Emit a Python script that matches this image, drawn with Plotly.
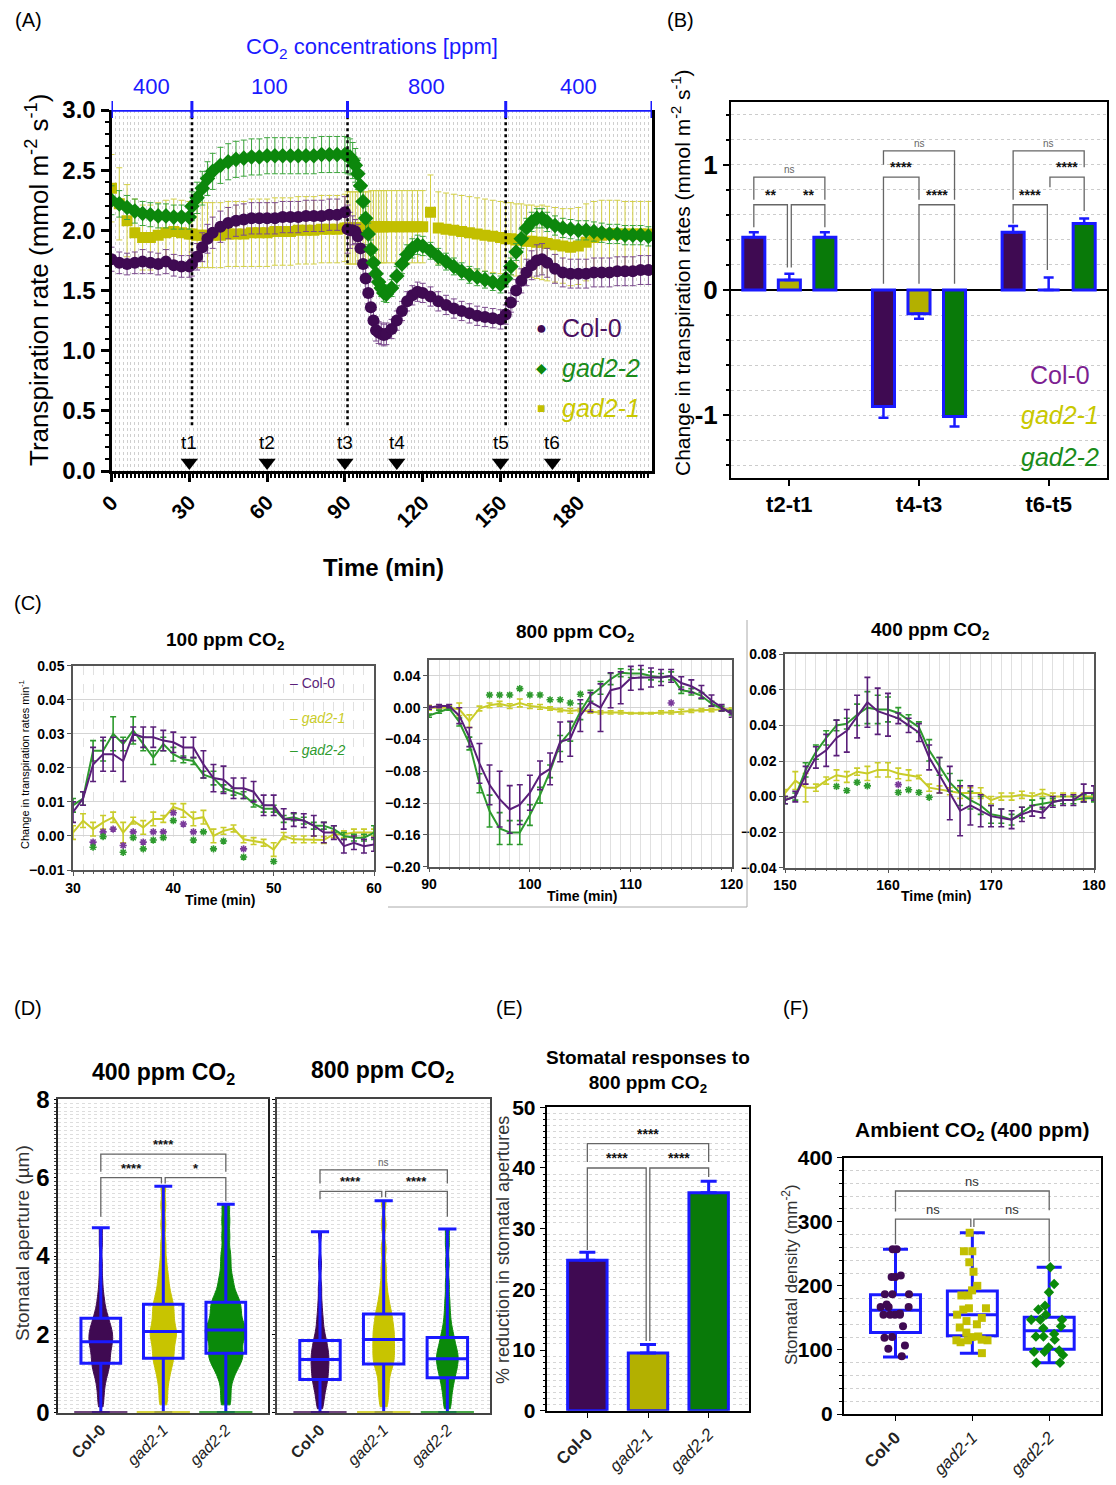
import plotly.graph_objects as go

W, H = 1116, 1485
FONT = "Arial, Liberation Sans, Helvetica, sans-serif"

PURPLE = "#3f0a52"
GREEN = "#0c870c"
YELLOW = "#c2bf00"
BLUE = "#1a1aff"

# ---------------- Panel A data ----------------
time_a = [0, 3, 6, 9, 12, 15, 18, 21, 24, 27, 30,
          31, 33, 35, 37, 39, 42, 45, 48, 51, 54, 57, 60, 63, 66, 69, 72, 75, 78, 81, 84, 87, 90,
          91, 92, 93, 94, 95, 96, 97, 98, 99, 100, 101, 102, 103, 104, 105, 106,
          108, 110, 112, 114, 116, 118, 120,
          123, 126, 129, 132, 135, 138, 141, 144, 147, 150,
          152, 154, 156, 158, 160, 162, 164, 166, 168,
          171, 174, 177, 180, 183, 186, 189, 192, 195, 198, 201, 204, 207]
col0_a = [1.76, 1.73, 1.72, 1.73, 1.74, 1.73, 1.72, 1.74, 1.71, 1.70, 1.70,
          1.72, 1.78, 1.86, 1.93, 1.98, 2.03, 2.06, 2.08, 2.09, 2.10, 2.10, 2.10, 2.10, 2.11, 2.11, 2.11, 2.12, 2.12, 2.12, 2.13, 2.13, 2.15,
          2.01, 2.00, 2.00, 1.99, 1.95, 1.85, 1.72, 1.60, 1.48, 1.36, 1.25, 1.17, 1.15, 1.14, 1.13, 1.14,
          1.18, 1.25, 1.33, 1.41, 1.46, 1.49, 1.48,
          1.45, 1.41, 1.38, 1.35, 1.33, 1.31, 1.29, 1.28, 1.27, 1.26,
          1.30, 1.40, 1.50, 1.58, 1.65, 1.71, 1.75, 1.76, 1.73,
          1.68, 1.65, 1.64, 1.64, 1.64, 1.65, 1.65, 1.65, 1.66, 1.66, 1.66, 1.67, 1.67]
col0_a_err = [0.10, 0.09, 0.09, 0.09, 0.10, 0.09, 0.09, 0.10, 0.09, 0.09, 0.09,
              0.10, 0.11, 0.12, 0.12, 0.13, 0.13, 0.13, 0.13, 0.13, 0.13, 0.13, 0.13, 0.13, 0.13, 0.13, 0.13, 0.13, 0.13, 0.13, 0.13, 0.13, 0.13,
              0.20, 0.15, 0.12, 0.10, 0.10, 0.10, 0.10, 0.09, 0.09, 0.09, 0.09, 0.09, 0.09, 0.09, 0.09, 0.09,
              0.08, 0.08, 0.08, 0.08, 0.08, 0.08, 0.08,
              0.08, 0.08, 0.08, 0.08, 0.08, 0.08, 0.08, 0.08, 0.08, 0.08,
              0.08, 0.08, 0.09, 0.10, 0.11, 0.12, 0.13, 0.13, 0.12,
              0.12, 0.12, 0.12, 0.12, 0.12, 0.12, 0.12, 0.12, 0.12, 0.12, 0.12, 0.12, 0.12]
gad22_a = [2.25, 2.22, 2.19, 2.16, 2.14, 2.13, 2.12, 2.12, 2.11, 2.11, 2.11,
           2.20, 2.27, 2.35, 2.43, 2.49, 2.54, 2.57, 2.59, 2.60, 2.61, 2.61, 2.62, 2.62, 2.62, 2.62, 2.62, 2.62, 2.62, 2.63, 2.63, 2.63, 2.63,
           2.62, 2.61, 2.58, 2.54, 2.47, 2.37, 2.24, 2.10, 1.97, 1.84, 1.73, 1.64, 1.57, 1.52, 1.48, 1.47,
           1.52, 1.62, 1.72, 1.80, 1.85, 1.88, 1.87,
           1.83, 1.78, 1.74, 1.70, 1.66, 1.63, 1.61, 1.59, 1.57, 1.55,
           1.60, 1.70, 1.82, 1.93, 2.02, 2.07, 2.10, 2.10, 2.07,
           2.04, 2.02, 2.01, 2.00, 2.00, 1.99, 1.98, 1.97, 1.97, 1.96, 1.96, 1.96, 1.95]
gad22_a_err = [0.12, 0.11, 0.10, 0.10, 0.10, 0.10, 0.10, 0.10, 0.10, 0.10, 0.10,
               0.12, 0.13, 0.14, 0.14, 0.15, 0.15, 0.15, 0.15, 0.15, 0.15, 0.15, 0.15, 0.15, 0.15, 0.15, 0.15, 0.15, 0.15, 0.15, 0.15, 0.15, 0.15,
               0.15, 0.15, 0.15, 0.14, 0.13, 0.12, 0.11, 0.10, 0.09, 0.08, 0.08, 0.07, 0.07, 0.07, 0.07, 0.07,
               0.07, 0.08, 0.08, 0.08, 0.08, 0.08, 0.08,
               0.07, 0.07, 0.07, 0.07, 0.07, 0.07, 0.07, 0.07, 0.07, 0.07,
               0.07, 0.07, 0.07, 0.08, 0.08, 0.08, 0.08, 0.08, 0.08,
               0.08, 0.08, 0.08, 0.08, 0.08, 0.08, 0.08, 0.08, 0.08, 0.08, 0.08, 0.08, 0.08]
gad21_a = [2.35, 2.22, 2.08, 1.98, 1.94, 1.94, 1.96, 1.98, 1.99, 1.98, 1.97,
           1.97, 1.96, 1.96, 1.96, 1.96, 1.96, 1.97, 1.97, 1.97, 1.98, 1.98, 1.98, 1.99, 1.99, 1.99, 2.00, 2.00, 2.00, 2.01, 2.01, 2.01, 2.02,
           2.02, 2.02, 2.02, 2.02, 2.02, 2.02, 2.02, 2.02, 2.02, 2.03, 2.03, 2.03, 2.03, 2.03, 2.03, 2.03,
           2.03, 2.03, 2.03, 2.03, 2.03, 2.03, 2.03,
           2.15, 2.02, 2.01, 2.00, 1.99, 1.98, 1.97, 1.96, 1.95, 1.94,
           1.93, 1.93, 1.92, 1.92, 1.91, 1.91, 1.90, 1.90, 1.89,
           1.88, 1.87, 1.86, 1.87, 1.90, 1.94, 1.96, 1.97, 1.97, 1.97, 1.97, 1.97, 1.97]
gad21_a_err = [0.28, 0.30, 0.30, 0.28, 0.27, 0.27, 0.27, 0.27, 0.27, 0.27, 0.27,
               0.27, 0.27, 0.27, 0.27, 0.27, 0.27, 0.27, 0.27, 0.27, 0.28, 0.28, 0.28, 0.28, 0.28, 0.28, 0.28, 0.28, 0.28, 0.28, 0.28, 0.28, 0.28,
               0.30, 0.30, 0.30, 0.30, 0.30, 0.30, 0.30, 0.30, 0.30, 0.30, 0.30, 0.30, 0.30, 0.30, 0.30, 0.30,
               0.30, 0.30, 0.30, 0.30, 0.30, 0.30, 0.30,
               0.31, 0.30, 0.30, 0.30, 0.30, 0.30, 0.30, 0.30, 0.30, 0.30,
               0.30, 0.30, 0.30, 0.30, 0.30, 0.30, 0.30, 0.31, 0.31,
               0.31, 0.31, 0.32, 0.32, 0.32, 0.30, 0.29, 0.28, 0.28, 0.27, 0.27, 0.27, 0.27]
co2_bounds = [0, 31, 91, 152, 208.4]
co2_labels = ["400", "100", "800", "400"]
t_marks = [30, 60, 90, 110, 150, 170]
t_labels = ["t1", "t2", "t3", "t4", "t5", "t6"]

# ---------------- Panel B data ----------------
b_groups = ["t2-t1", "t4-t3", "t6-t5"]
b_col0 = [0.42, -0.93, 0.46]
b_col0_err = [0.04, 0.09, 0.05]
b_gad21 = [0.08, -0.19, 0.0]
b_gad21_err = [0.05, 0.04, 0.10]
b_gad22 = [0.42, -1.01, 0.53]
b_gad22_err = [0.04, 0.08, 0.04]

# ---------------- Panel C data ----------------
time_c1 = list(range(30, 61))
c1_col0 = [0.007, 0.011, 0.021, 0.024, 0.024, 0.022, 0.030, 0.029, 0.029, 0.028, 0.0275, 0.026, 0.026, 0.021, 0.017, 0.0165,
           0.014, 0.014, 0.013, 0.009, 0.009, 0.005, 0.0048, 0.0045, 0.003, 0.001, 0.001, -0.003, -0.002, -0.003, -0.0025]
c1_col0_err = [0.003, 0.002, 0.005, 0.005, 0.005, 0.006, 0.002, 0.003, 0.003, 0.003, 0.003, 0.003, 0.003, 0.004, 0.004, 0.004,
               0.003, 0.003, 0.003, 0.003, 0.003, 0.003, 0.002, 0.002, 0.003, 0.003, 0.002, 0.002, 0.002, 0.002, 0.002]
c1_gad22 = [0.009, 0.011, 0.025, 0.025, 0.030, 0.027, 0.031, 0.027, 0.023, 0.027, 0.024, 0.0225, 0.022, 0.018, 0.017, 0.014,
            0.013, 0.012, 0.0095, 0.008, 0.008, 0.005, 0.0055, 0.0045, 0.003, 0.003, 0.002, 0.000, -0.0005, -0.0005, 0.001]
c1_gad22_err = [0.002, 0.002, 0.003, 0.003, 0.005, 0.002, 0.004, 0.002, 0.002, 0.002, 0.002, 0.001, 0.001, 0.001, 0.002, 0.001,
                0.001, 0.001, 0.001, 0.001, 0.001, 0.001, 0.001, 0.001, 0.001, 0.001, 0.001, 0.001, 0.001, 0.001, 0.002]
c1_gad21 = [0.001, 0.0045, 0.002, 0.004, 0.0055, 0.001, 0.0045, 0.0025, 0.005, 0.005, 0.0085, 0.0075, 0.005, 0.0055, 0.0, 0.0015,
            0.0022, -0.001, -0.0015, -0.002, -0.004, 0.0, -0.001, -0.001, -0.001, -0.0012, 0.0005, 0.0005, 0.001, 0.001, 0.001]
c1_gad21_err = [0.002, 0.002, 0.002, 0.002, 0.0015, 0.003, 0.001, 0.002, 0.002, 0.001, 0.001, 0.002, 0.002, 0.002, 0.002, 0.001,
                0.001, 0.001, 0.001, 0.001, 0.002, 0.001, 0.001, 0.001, 0.001, 0.001, 0.001, 0.001, 0.001, 0.001, 0.001]
c1_star_col0_x = [32, 33, 34, 35, 36, 37, 38, 39, 40, 41, 42, 47]
c1_star_col0_y = [-0.0018, 0.0012, 0.002, -0.0028, 0.0012, -0.0018, 0.0012, 0.0012, 0.0068, 0.0035, 0.0012, -0.0038]
c1_star_gad22_x = [32, 33, 35, 36, 37, 38, 39, 40, 42, 43, 44, 45, 47, 50]
c1_star_gad22_y = [-0.0033, -0.0002, -0.0048, -0.0005, -0.0038, -0.0012, -0.0005, 0.0045, -0.0012, 0.0012, -0.0038, -0.0015, -0.0062, -0.0075]

time_c2 = list(range(90, 121))
c2_col0 = [0.0, 0.002, 0.002, -0.01, -0.037, -0.07, -0.097, -0.115, -0.128, -0.122, -0.107, -0.085, -0.077, -0.043, -0.039, -0.01,
           0.007, 0.0, 0.022, 0.025, 0.037, 0.038, 0.038, 0.038, 0.04, 0.031, 0.027, 0.02, 0.009, 0.0, -0.008]
c2_col0_err = [0.002, 0.002, 0.002, 0.01, 0.012, 0.025, 0.025, 0.035, 0.03, 0.025, 0.022, 0.018, 0.02, 0.025, 0.022, 0.02,
               0.012, 0.03, 0.022, 0.02, 0.015, 0.015, 0.012, 0.01, 0.008, 0.008, 0.008, 0.008, 0.007, 0.004, 0.004]
c2_gad22 = [-0.01, -0.005, -0.001, -0.018, -0.045, -0.095, -0.13, -0.152, -0.157, -0.157, -0.135, -0.11, -0.08, -0.045, -0.03, -0.005,
            0.015, 0.025, 0.036, 0.044, 0.043, 0.043, 0.04, 0.038, 0.04, 0.022, 0.02, 0.015, 0.005, -0.001, -0.006]
c2_gad22_err = [0.002, 0.002, 0.002, 0.005, 0.008, 0.012, 0.02, 0.02, 0.015, 0.015, 0.013, 0.01, 0.008, 0.01, 0.012, 0.01,
                0.007, 0.008, 0.007, 0.005, 0.005, 0.005, 0.005, 0.005, 0.005, 0.004, 0.004, 0.004, 0.003, 0.003, 0.003]
c2_gad21 = [0.0, 0.0, 0.0, -0.002, -0.017, -0.001, 0.003, 0.005, 0.002, 0.006, 0.002, 0.001, -0.001, -0.003, -0.004, -0.003,
            -0.005, -0.006, -0.006, -0.006, -0.007, -0.007, -0.007, -0.006, -0.006, -0.005, -0.004, -0.003, -0.003, -0.002, -0.002]
c2_gad21_err = [0.003, 0.003, 0.003, 0.008, 0.008, 0.003, 0.003, 0.003, 0.003, 0.005, 0.003, 0.003, 0.002, 0.002, 0.003, 0.002,
                0.002, 0.002, 0.002, 0.002, 0.001, 0.001, 0.001, 0.002, 0.002, 0.003, 0.002, 0.002, 0.002, 0.002, 0.002]
c2_star_col0_x = [114]
c2_star_col0_y = [0.006]
c2_star_gad22_x = [96, 97, 98, 99, 100, 101, 102, 103, 104, 105]
c2_star_gad22_y = [0.016, 0.016, 0.016, 0.024, 0.016, 0.016, 0.010, 0.010, 0.006, 0.017]

time_c3 = list(range(150, 181))
c3_col0 = [-0.002, 0.0, 0.012, 0.022, 0.026, 0.033, 0.037, 0.045, 0.053, 0.048, 0.046, 0.044, 0.04, 0.036, 0.022, 0.012,
           0.002, -0.008, -0.005, -0.008, -0.011, -0.012, -0.013, -0.01, -0.008, -0.009, -0.003, -0.002, -0.002, 0.002, 0.002]
c3_col0_err = [0.002, 0.003, 0.005, 0.006, 0.009, 0.01, 0.012, 0.012, 0.014, 0.013, 0.012, 0.003, 0.004, 0.005, 0.007, 0.01,
               0.015, 0.014, 0.011, 0.009, 0.006, 0.005, 0.005, 0.004, 0.003, 0.003, 0.003, 0.003, 0.003, 0.005, 0.004]
c3_gad22 = [-0.002, 0.0, 0.015, 0.025, 0.033, 0.04, 0.041, 0.046, 0.05, 0.049, 0.049, 0.047, 0.043, 0.039, 0.026, 0.017,
            0.008, 0.002, -0.002, -0.005, -0.01, -0.011, -0.013, -0.009, -0.005, -0.004, -0.003, -0.002, -0.002, -0.001, -0.001]
c3_gad22_err = [0.002, 0.002, 0.004, 0.004, 0.004, 0.003, 0.003, 0.006, 0.009, 0.008, 0.007, 0.003, 0.003, 0.003, 0.006, 0.005,
                0.005, 0.007, 0.005, 0.005, 0.005, 0.004, 0.003, 0.003, 0.003, 0.003, 0.002, 0.002, 0.002, 0.002, 0.002]
c3_gad21 = [0.002, 0.009, 0.005, 0.005, 0.009, 0.012, 0.011, 0.014, 0.013, 0.015, 0.015, 0.013, 0.012, 0.011, 0.005, 0.004,
            0.003, 0.002, 0.002, 0.002, -0.002, 0.0, 0.0, 0.001, 0.0, 0.002, 0.0, 0.0, 0.0, 0.0, 0.0]
c3_gad21_err = [0.002, 0.005, 0.008, 0.002, 0.002, 0.003, 0.003, 0.002, 0.004, 0.004, 0.004, 0.003, 0.003, 0.001, 0.002, 0.002,
                0.002, 0.003, 0.003, 0.003, 0.002, 0.002, 0.002, 0.002, 0.002, 0.002, 0.002, 0.002, 0.002, 0.002, 0.002]
c3_star_col0_x = [161]
c3_star_col0_y = [0.0067]
c3_star_gad22_x = [155, 156, 157, 158, 161, 162, 163, 164]
c3_star_gad22_y = [0.0057, 0.0034, 0.008, 0.006, 0.0023, 0.0038, 0.0023, -0.0004]

# ---------------- Panel D data ----------------
genotypes = ["Col-0", "gad2-1", "gad2-2"]
d400_col0 = [0.15, 0.35, 0.55, 0.7, 0.85, 0.95, 1.05, 1.1, 1.2, 1.25, 1.3, 1.38, 1.45, 1.5, 1.58, 1.65, 1.7, 1.75, 1.8, 1.85,
             1.9, 1.95, 2.0, 2.05, 2.1, 2.15, 2.2, 2.28, 2.35, 2.42, 2.5, 2.6, 2.75, 2.9, 3.1, 3.4, 3.8, 4.3, 4.7]
d400_gad21 = [0.2, 0.45, 0.7, 0.9, 1.05, 1.2, 1.3, 1.4, 1.5, 1.6, 1.7, 1.8, 1.9, 1.97, 2.05, 2.1, 2.2, 2.3, 2.4, 2.5, 2.6,
              2.7, 2.8, 2.9, 3.05, 3.2, 3.4, 3.6, 3.9, 4.3, 4.8, 5.3, 5.8]
d400_gad22 = [0.2, 0.5, 0.8, 1.0, 1.15, 1.25, 1.35, 1.45, 1.5, 1.6, 1.7, 1.8, 1.9, 2.0, 2.05, 2.1, 2.15, 2.25, 2.35, 2.45,
              2.55, 2.65, 2.75, 2.85, 2.95, 3.1, 3.3, 3.5, 3.8, 4.1, 4.5, 4.9, 5.3]
d800_col0 = [0.1, 0.3, 0.45, 0.6, 0.7, 0.8, 0.88, 0.95, 1.05, 1.12, 1.2, 1.28, 1.35, 1.42, 1.5, 1.58, 1.65, 1.75, 1.85,
             1.95, 2.1, 2.3, 2.5, 2.8, 3.2, 3.8, 4.6]
d800_gad21 = [0.15, 0.4, 0.6, 0.8, 1.0, 1.15, 1.25, 1.35, 1.45, 1.55, 1.65, 1.75, 1.85, 1.95, 2.05, 2.15, 2.25, 2.38, 2.5,
              2.62, 2.8, 3.0, 3.3, 3.7, 4.2, 4.8, 5.4]
d800_gad22 = [0.1, 0.3, 0.5, 0.65, 0.78, 0.9, 1.0, 1.08, 1.16, 1.25, 1.32, 1.38, 1.45, 1.52, 1.6, 1.68, 1.78, 1.9, 2.0,
              2.15, 2.35, 2.6, 2.9, 3.3, 3.8, 4.3, 4.7]
d400_zero = [0, 0, 0]
d800_zero = [0, 0, 0]
d400_q1 = [1.26, 1.39, 1.52]
d400_med = [1.81, 2.07, 2.11]
d400_q3 = [2.41, 2.77, 2.82]
d400_lo = [0, 0, 0]
d400_hi = [4.72, 5.78, 5.32]
d800_q1 = [0.85, 1.24, 0.89]
d800_med = [1.36, 1.87, 1.38]
d800_q3 = [1.84, 2.52, 1.92]
d800_lo = [0, 0, 0]
d800_hi = [4.62, 5.41, 4.69]

# ---------------- Panel E data ----------------
e_vals = [24.8, 9.5, 35.9]
e_err = [1.3, 1.4, 1.9]

# ---------------- Panel F data ----------------
f_col0 = [257, 257, 214, 214, 216, 187, 187, 187, 171, 167, 167, 167, 157, 155, 155, 155, 155, 137, 120, 119, 107, 102, 90]
f_gad21 = [283, 254, 254, 237, 222, 200, 193, 185, 185, 165, 163, 165, 155, 150, 145, 140, 135, 127, 121, 120, 115, 115,
           116, 115, 112, 95]
f_gad22 = [229, 203, 190, 169, 163, 155, 147, 147, 147, 137, 134, 125, 121, 121, 116, 104, 99, 97, 97, 92, 80, 80]
f_q1 = [127, 122, 101]
f_med = [162, 155, 130]
f_q3 = [186, 192, 151]
f_lo = [89, 95, 80]
f_hi = [257, 283, 229]


def px(x):
    return x / W


def py(y):
    return 1 - y / H


shapes = []
annotations = []


def ptext(x, y, text, size, color="#000", angle=0, xanchor="center", yanchor="middle"):
    annotations.append(dict(xref="paper", yref="paper", x=px(x), y=py(y), text=text, showarrow=False,
                            textangle=angle, xanchor=xanchor, yanchor=yanchor,
                            font=dict(size=size, color=color, family=FONT)))


def bracket(xa, ya, x1, x2, y, y1, y2, label, size=13, color="#111", bold=True, lc="#666"):
    shapes.append(dict(type="path", xref=xa, yref=ya,
                       path=f"M {x1},{y1} L {x1},{y} L {x2},{y} L {x2},{y2}",
                       line=dict(color=lc, width=1.3)))
    txt = f"<b>{label}</b>" if bold else label
    annotations.append(dict(xref=xa, yref=ya, x=(x1 + x2) / 2, y=y, text=txt, showarrow=False,
                            xanchor="center", yanchor="bottom", yshift=0,
                            font=dict(size=size, color=color, family=FONT)))


fig = go.Figure()

# ================= Panel A =================
for vals, err, sym, col, ecol, sz in [
    (gad21_a, gad21_a_err, "square", YELLOW, "#d3cf45", 11),
    (col0_a, col0_a_err, "circle", PURPLE, "#7b4a8d", 12),
    (gad22_a, gad22_a_err, "diamond", GREEN, "#3ca53c", 12),
]:
    fig.add_trace(go.Scatter(x=time_a, y=vals, mode="markers", xaxis="x", yaxis="y",
                             marker=dict(symbol=sym, size=sz, color=col, line=dict(width=0)),
                             error_y=dict(type="data", array=err, color=ecol, thickness=1, width=3),
                             hoverinfo="skip"))
fig.add_trace(go.Scatter(x=t_marks, y=[0.07] * len(t_marks), mode="markers", xaxis="x", yaxis="y",
                         marker=dict(symbol="triangle-down", size=15, color="black"), hoverinfo="skip"))
for t, lab in zip(t_marks, t_labels):
    annotations.append(dict(xref="x", yref="y", x=t, y=0.24, text=lab, showarrow=False,
                            xanchor="center", yanchor="middle",
                            font=dict(size=19, color="black", family=FONT)))
for b in co2_bounds[1:-1]:
    shapes.append(dict(type="line", xref="x", yref="y", x0=b, x1=b, y0=0.38, y1=3.0,
                       line=dict(color="black", width=2.5, dash="dot")))
shapes.append(dict(type="line", xref="x", yref="y", x0=co2_bounds[0], x1=co2_bounds[-1], y0=3.0, y1=3.0,
                   line=dict(color=BLUE, width=3.5)))
for b in co2_bounds:
    shapes.append(dict(type="line", xref="x", yref="paper", x0=b, x1=b, y0=py(118), y1=py(101),
                       line=dict(color=BLUE, width=3)))
for i, lab in enumerate(co2_labels):
    annotations.append(dict(xref="x", yref="paper", x=(co2_bounds[i] + co2_bounds[i + 1]) / 2, y=py(86),
                            text=lab, showarrow=False, xanchor="center", yanchor="middle",
                            font=dict(size=22, color=BLUE, family=FONT)))
ptext(372, 48, "CO<sub>2</sub> concentrations [ppm]", 22, BLUE)
ptext(28, 20, "(A)", 20)
ptext(383, 568, "<b>Time (min)</b>", 24)
ptext(37, 280, "Transpiration rate (mmol m<sup>-2</sup> s<sup>-1</sup>)", 26, angle=-90)
ptext(541, 328, "●", 18, PURPLE)
ptext(560, 328, "Col-0", 25, "#4a1060", xanchor="left")
ptext(541, 368, "◆", 14, GREEN)
ptext(560, 368, "<i>gad2-2</i>", 25, "#1a8c1a", xanchor="left")
ptext(541, 408, "■", 14, YELLOW)
ptext(560, 408, "<i>gad2-1</i>", 25, "#c9c800", xanchor="left")

# ================= Panel B =================
b_off = [-0.274, 0.0, 0.274]
for vals, err, col, off in [(b_col0, b_col0_err, PURPLE, b_off[0]),
                            (b_gad21, b_gad21_err, "#b3b000", b_off[1]),
                            (b_gad22, b_gad22_err, "#097a09", b_off[2])]:
    up = [e if v >= 0 else 0 for v, e in zip(vals, err)]
    dn = [e if v < 0 else 0 for v, e in zip(vals, err)]
    fig.add_trace(go.Bar(x=[0, 1, 2], y=vals, width=0.17, offset=off - 0.085, xaxis="x2", yaxis="y2",
                         marker=dict(color=col, line=dict(color=BLUE, width=3)),
                         error_y=dict(type="data", symmetric=False, array=up, arrayminus=dn,
                                      color=BLUE, thickness=2.5, width=5),
                         hoverinfo="skip"))
for x1, x2, y, y1, y2, lab in [
    (0 - 0.274, 0 - 0.015, 0.68, 0.50, 0.18, "**"),
    (0 + 0.015, 0 + 0.274, 0.68, 0.18, 0.50, "**"),
    (0 - 0.274, 0 + 0.274, 0.90, 0.72, 0.72, "ns"),
    (1 - 0.274, 1.0, 0.90, 0.05, 0.72, "****"),
    (1.0, 1 + 0.274, 0.68, 0.05, 0.05, "****"),
    (1 - 0.274, 1 + 0.274, 1.11, 1.0, 0.72, "ns"),
    (2 - 0.274, 2 - 0.01, 0.68, 0.53, 0.16, "****"),
    (2 + 0.01, 2 + 0.274, 0.90, 0.82, 0.63, "****"),
    (2 - 0.274, 2 + 0.274, 1.11, 0.72, 0.98, "ns"),
]:
    if lab == "ns":
        bracket("x2", "y2", x1, x2, y, y1, y2, lab, size=10, color="#666", bold=False)
    else:
        bracket("x2", "y2", x1, x2, y, y1, y2, lab, size=14)
ptext(680, 20, "(B)", 20)
ptext(681, 273, "Change in transpiration rates (mmol m<sup>-2</sup> s<sup>-1</sup>)", 21, angle=-90)
ptext(1060, 375, "Col-0", 25, "#7d1f91")
ptext(1060, 415, "<i>gad2-1</i>", 25, "#c9c800")
ptext(1060, 457, "<i>gad2-2</i>", 25, "#1a8c1a")

# ================= Panel C =================
CP, CY, CG = "#5a1f7a", "#c9cc2a", "#2e9a2e"
panels_c = [
    ("x3", "y3", time_c1, (c1_col0, c1_col0_err), (c1_gad21, c1_gad21_err), (c1_gad22, c1_gad22_err),
     (c1_star_col0_x, c1_star_col0_y), (c1_star_gad22_x, c1_star_gad22_y)),
    ("x4", "y4", time_c2, (c2_col0, c2_col0_err), (c2_gad21, c2_gad21_err), (c2_gad22, c2_gad22_err),
     (c2_star_col0_x, c2_star_col0_y), (c2_star_gad22_x, c2_star_gad22_y)),
    ("x5", "y5", time_c3, (c3_col0, c3_col0_err), (c3_gad21, c3_gad21_err), (c3_gad22, c3_gad22_err),
     (c3_star_col0_x, c3_star_col0_y), (c3_star_gad22_x, c3_star_gad22_y)),
]
for xa, ya, tt, c0, g1, g2, s0, s2 in panels_c:
    for (vals, err), col in [(g1, CY), (g2, CG), (c0, CP)]:
        fig.add_trace(go.Scatter(x=tt, y=vals, mode="lines", xaxis=xa, yaxis=ya,
                                 line=dict(color=col, width=2),
                                 error_y=dict(type="data", array=err, color=col, thickness=1.6, width=3),
                                 hoverinfo="skip"))
    for (sx, sy), col in [(s0, "#7a3a9a"), (s2, "#2e9a2e")]:
        fig.add_trace(go.Scatter(x=sx, y=sy, mode="markers", xaxis=xa, yaxis=ya,
                                 marker=dict(symbol="asterisk-open", size=6, color=col,
                                             line=dict(color=col, width=1.6)),
                                 hoverinfo="skip"))
ptext(28, 603, "(C)", 20)
ptext(225, 641, "<b>100 ppm CO<sub>2</sub></b>", 19)
ptext(575, 633, "<b>800 ppm CO<sub>2</sub></b>", 19)
ptext(930, 631, "<b>400 ppm CO<sub>2</sub></b>", 19)
ptext(220, 900, "<b>Time (min)</b>", 14)
ptext(582, 896, "<b>Time (min)</b>", 14)
ptext(936, 896, "<b>Time (min)</b>", 14)
ptext(24, 765, "Change in transpiration rates min<sup>-1</sup>", 11, angle=-90)
ptext(288, 683, "– Col-0", 14, CP, xanchor="left")
ptext(288, 718, "– <i>gad2-1</i>", 14, CY, xanchor="left")
ptext(288, 750, "– <i>gad2-2</i>", 14, CG, xanchor="left")
shapes.append(dict(type="line", xref="paper", yref="paper", x0=px(388), x1=px(747), y0=py(907), y1=py(907),
                   line=dict(color="#aaaaaa", width=1)))
shapes.append(dict(type="line", xref="paper", yref="paper", x0=px(747), x1=px(747), y0=py(620), y1=py(907),
                   line=dict(color="#aaaaaa", width=1)))

# ================= Panel D =================
DCOL = [PURPLE, "#c8c400", "#0a8a0a"]
for xa, ya, groups, widths, q1, med, q3, lo, hi, zeros in [
    ("x6", "y6", [d400_col0, d400_gad21, d400_gad22], [0.38, 0.42, 0.66], d400_q1, d400_med, d400_q3, d400_lo, d400_hi, d400_zero),
    ("x7", "y7", [d800_col0, d800_gad21, d800_gad22], [0.28, 0.34, 0.34], d800_q1, d800_med, d800_q3, d800_lo, d800_hi, d800_zero),
]:
    for i, (vals, w) in enumerate(zip(groups, widths)):
        fig.add_trace(go.Violin(x=[i] * len(vals), y=vals, xaxis=xa, yaxis=ya, width=w, bandwidth=0.18,
                                spanmode="hard", points=False, fillcolor=DCOL[i], opacity=1,
                                line=dict(color=DCOL[i], width=1), box=dict(visible=False),
                                meanline=dict(visible=False), hoverinfo="skip"))
    fig.add_trace(go.Scatter(x=[0, 1, 2], y=zeros, mode="markers", xaxis=xa, yaxis=ya,
                             marker=dict(symbol="line-ew", size=38, color=DCOL, line=dict(color=DCOL, width=3)),
                             hoverinfo="skip"))
    fig.add_trace(go.Box(x=[0, 1, 2], q1=q1, median=med, q3=q3, lowerfence=lo, upperfence=hi,
                         xaxis=xa, yaxis=ya, width=0.635, whiskerwidth=0.45, boxpoints=False,
                         line=dict(color=BLUE, width=3), fillcolor="rgba(0,0,0,0)", hoverinfo="skip"))
for x1, x2, y, y1, y2, lab in [(0, 0.97, 6.0, 5.0, 5.85, "****"), (1.03, 2, 6.0, 5.85, 5.4, "*"),
                               (0, 2, 6.6, 6.15, 6.15, "****")]:
    bracket("x6", "y6", x1, x2, y, y1, y2, lab, size=13)
for x1, x2, y, y1, y2, lab in [(0, 0.97, 5.65, 5.45, 5.5, "****"), (1.03, 2, 5.65, 5.5, 5.0, "****"),
                               (0, 2, 6.2, 5.85, 5.85, "ns")]:
    if lab == "ns":
        bracket("x7", "y7", x1, x2, y, y1, y2, lab, size=10, color="#666", bold=False)
    else:
        bracket("x7", "y7", x1, x2, y, y1, y2, lab, size=13)
ptext(28, 1008, "(D)", 20)
ptext(163, 1073, "<b>400 ppm CO<sub>2</sub></b>", 23)
ptext(382, 1071, "<b>800 ppm CO<sub>2</sub></b>", 23)
ptext(22, 1243, "Stomatal aperture (µm)", 19, "#333", angle=-90)

# ================= Panel E =================
fig.add_trace(go.Bar(x=[0, 1, 2], y=e_vals, width=0.65, xaxis="x8", yaxis="y8",
                     marker=dict(color=[PURPLE, "#b3b000", "#097a09"], line=dict(color=BLUE, width=3)),
                     error_y=dict(type="data", symmetric=False, array=e_err, arrayminus=[0, 0, 0],
                                  color=BLUE, thickness=3, width=8),
                     hoverinfo="skip"))
for x1, x2, y, y1, y2 in [(0, 0.97, 40, 26.5, 11.5), (1.03, 2, 40, 11.5, 38.5), (0, 2, 44, 41, 41)]:
    bracket("x8", "y8", x1, x2, y, y1, y2, "****", size=14)
ptext(509, 1008, "(E)", 20)
ptext(648, 1071, "<b>Stomatal responses to<br>800 ppm CO<sub>2</sub></b>", 19)
ptext(503, 1250, "% reduction in stomatal apertures", 18, "#333", angle=-90)

# ================= Panel F =================
fig.add_trace(go.Box(x=[0, 1, 2], q1=f_q1, median=f_med, q3=f_q3, lowerfence=f_lo, upperfence=f_hi,
                     xaxis="x9", yaxis="y9", width=0.65, whiskerwidth=0.5, boxpoints=False,
                     line=dict(color=BLUE, width=3), fillcolor="rgba(0,0,0,0)", hoverinfo="skip"))
for i, (vals, sym, col) in enumerate([(f_col0, "circle", PURPLE), (f_gad21, "square", "#c2bf00"),
                                      (f_gad22, "diamond", "#0a8a0a")]):
    fig.add_trace(go.Box(x=[i] * len(vals), y=vals, xaxis="x9", yaxis="y9", width=0.6, boxpoints="all",
                         jitter=0.9, pointpos=0, whiskerwidth=0,
                         marker=dict(symbol=sym, size=8, color=col),
                         line=dict(color="rgba(0,0,0,0)", width=0), fillcolor="rgba(0,0,0,0)",
                         hoverinfo="skip"))
for x1, x2, y, y1, y2 in [(0, 0.98, 304, 265, 292), (1.02, 2, 304, 292, 238), (0, 2, 348, 316, 318)]:
    bracket("x9", "y9", x1, x2, y, y1, y2, "ns", size=13, color="#333", bold=False)
ptext(796, 1008, "(F)", 20)
ptext(972, 1131, "<b>Ambient CO<sub>2</sub> (400 ppm)</b>", 21)
ptext(790, 1275, "Stomatal density (mm<sup>-2</sup>)", 17, "#333", angle=-90)

# ================= Axes =================
cat_text = ["<b>Col-0</b>", "<i>gad2-1</i>", "<i>gad2-2</i>"]


def base(**kw):
    d = dict(automargin=False, zeroline=False, showgrid=False, showline=True, linecolor="black",
             ticks="outside", tickcolor="black", tickfont=dict(family=FONT, color="black", size=14, weight="bold"))
    d.update(kw)
    return d


layout = dict(
    width=W, height=H, margin=dict(l=0, r=0, t=0, b=0), template="none",
    paper_bgcolor="white", plot_bgcolor="white", font=dict(family=FONT, color="black"),
    showlegend=False, barmode="overlay", violinmode="overlay", boxmode="overlay",
    # A
    xaxis=base(domain=[px(111.5), px(652)], anchor="y", range=[0, 208.4], tickmode="array",
               tickvals=[0, 30, 60, 90, 120, 150, 180], tickangle=-45,
               tickfont=dict(family=FONT, size=21, weight="bold", color="black"),
               linewidth=3, ticklen=8, tickwidth=2.5, showgrid=True, gridcolor="#cfcfcf", griddash="dot",
               minor=dict(tickmode="linear", tick0=0, dtick=1.5, ticks="outside", ticklen=4, tickwidth=1.5,
                          tickcolor="black", showgrid=True, gridcolor="#cfcfcf", griddash="dot")),
    yaxis=base(domain=[py(471), py(110)], anchor="x", range=[0, 3], tick0=0, dtick=0.5, tickformat=".1f",
               tickfont=dict(family=FONT, size=24, weight="bold", color="black"),
               linewidth=3, mirror=True, ticklen=8, tickwidth=2.5,
               minor=dict(tickmode="linear", tick0=0, dtick=0.1, ticks="outside", ticklen=4, tickwidth=1.5,
                          tickcolor="black")),
    # B
    xaxis2=base(domain=[px(731), px(1107)], anchor="y2", range=[-0.45, 2.45], tickmode="array",
                tickvals=[0, 1, 2], ticktext=b_groups, linewidth=2, mirror=True, ticklen=6, tickwidth=2,
                tickfont=dict(family=FONT, size=22, weight="bold", color="black")),
    yaxis2=base(domain=[py(478), py(102)], anchor="x2", range=[-1.5, 1.5], tickmode="array",
                tickvals=[-1, 0, 1], ticktext=["-1", "0", "1"], linewidth=2, mirror=True, ticklen=6, tickwidth=2,
                tickfont=dict(family=FONT, size=26, weight="bold", color="black"),
                zeroline=True, zerolinecolor="black", zerolinewidth=2,
                minor=dict(tickmode="linear", tick0=0, dtick=0.2, ticks="outside", ticklen=3, tickcolor="black",
                           showgrid=True, gridcolor="#cccccc", griddash="dot")),
)

c_common = dict(linecolor="#555", linewidth=1.5, mirror=True, ticklen=4, tickcolor="#555")
for k, dom_x, dom_y, xr, yr, ydt in [
    ("3", (73, 374), (870, 665.7), [30, 60], [-0.01, 0.05], 0.01),
    ("4", (429, 731.7), (866.7, 660), [90, 120], [-0.2, 0.06], 0.04),
    ("5", (785, 1094), (867.7, 654.3), [150, 180], [-0.04, 0.08], 0.02),
]:
    layout["xaxis" + k] = base(domain=[px(dom_x[0]), px(dom_x[1])], anchor="y" + k, range=xr, tick0=0, dtick=10,
                               showgrid=True, gridcolor="#e0e0e0", griddash="dash" if k == "3" else "solid",
                               minor=dict(tickmode="linear", tick0=0, dtick=1, showgrid=True, gridcolor="#e0e0e0",
                                          griddash="dash" if k == "3" else "solid", ticks="outside", ticklen=2,
                                          tickcolor="#555"),
                               **c_common)
    layout["yaxis" + k] = base(domain=[py(dom_y[0]), py(dom_y[1])], anchor="x" + k, range=yr, tick0=0, dtick=ydt,
                               tickformat=".2f", showgrid=True, gridcolor="#d4d4d4", **c_common)

d_x = dict(range=[-0.68, 2.67], tickmode="array", tickvals=[0, 1, 2], ticktext=cat_text, tickangle=-45,
           tickfont=dict(family=FONT, size=16, color="#222"), ticks="", linecolor="#444", linewidth=1.5, mirror=True)
d_minor = dict(tickmode="linear", tick0=0, dtick=0.1, ticks="outside", ticklen=2, tickcolor="#444",
               showgrid=True, gridcolor="#dddddd", griddash="dot")
layout["xaxis6"] = base(domain=[px(58.3), px(267.7)], anchor="y6", **d_x)
layout["yaxis6"] = base(domain=[py(1412.7), py(1099.3)], anchor="x6", range=[0, 8], tick0=0, dtick=2,
                        tickfont=dict(family=FONT, size=24, weight="bold", color="black"),
                        linecolor="#222", linewidth=2, mirror=True, ticklen=2, minor=d_minor)
layout["xaxis7"] = base(domain=[px(276.7), px(490)], anchor="y7", **d_x)
layout["yaxis7"] = base(domain=[py(1412.7), py(1099.3)], anchor="x7", range=[0, 8], tick0=0, dtick=2,
                        showticklabels=False, linecolor="#444", linewidth=1.5, mirror=True, ticklen=3, minor=d_minor)

layout["xaxis8"] = base(domain=[px(546.7), px(749.3)], anchor="y8", range=[-0.67, 2.67], tickmode="array",
                        tickvals=[0, 1, 2], ticktext=cat_text, tickangle=-45, ticklen=5, linewidth=2,
                        tickfont=dict(family=FONT, size=17, color="#222"), mirror=True)
layout["yaxis8"] = base(domain=[py(1410.7), py(1107.3)], anchor="x8", range=[0, 50], tick0=0, dtick=10,
                        tickfont=dict(family=FONT, size=21, weight="bold", color="black"), linewidth=2, mirror=True,
                        ticklen=5, minor=dict(tickmode="linear", tick0=0, dtick=1, ticks="outside", ticklen=2,
                                              tickcolor="black", showgrid=True, gridcolor="#d6d6d6", griddash="dot"))
layout["xaxis9"] = base(domain=[px(844), px(1100.7)], anchor="y9", range=[-0.67, 2.67], tickmode="array",
                        tickvals=[0, 1, 2], ticktext=cat_text, tickangle=-45, ticklen=5, linewidth=2,
                        tickfont=dict(family=FONT, size=17, color="#222"), mirror=True)
layout["yaxis9"] = base(domain=[py(1414), py(1157.7)], anchor="x9", range=[0, 400], tick0=0, dtick=100,
                        tickfont=dict(family=FONT, size=21, weight="bold", color="black"), linewidth=2, mirror=True,
                        ticklen=5, minor=dict(tickmode="linear", tick0=0, dtick=20, ticks="outside", ticklen=3,
                                              tickcolor="black", showgrid=True, gridcolor="#d0d0d0", griddash="dot"))

layout["shapes"] = shapes
layout["annotations"] = annotations
fig.update_layout(layout)
fig.write_html("out.html")
